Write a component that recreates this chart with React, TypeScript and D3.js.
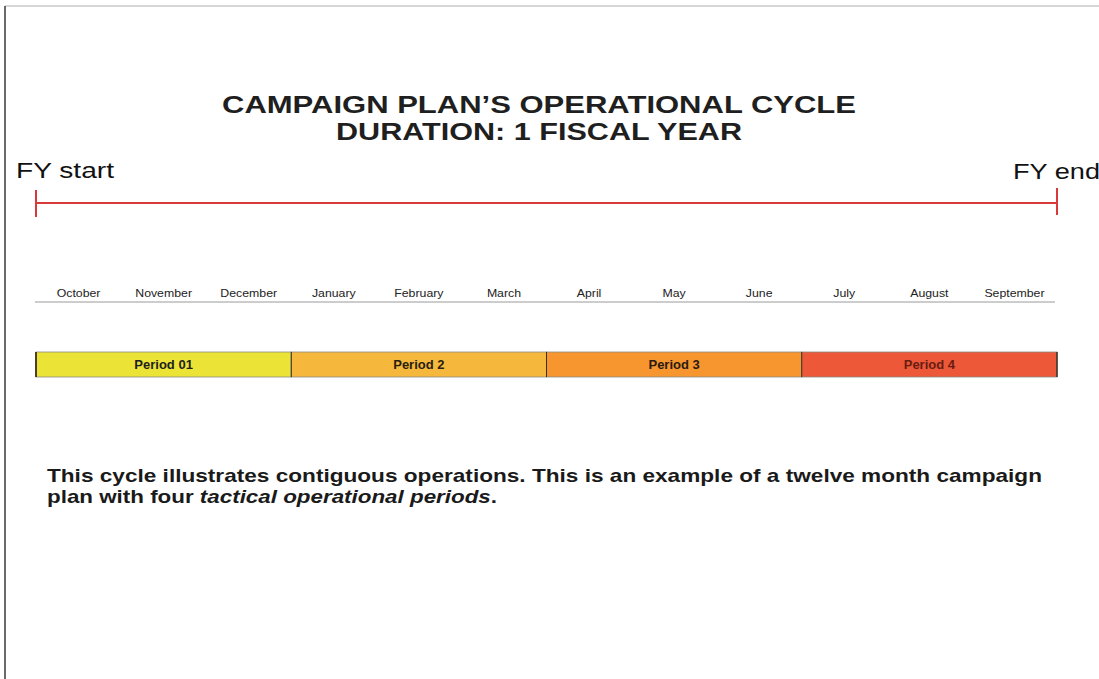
import React from 'react';
import * as d3 from 'd3';

// chart content
const TITLE_LINES = ["CAMPAIGN PLAN\u2019S OPERATIONAL CYCLE", 'DURATION: 1 FISCAL YEAR'];
const MONTHS = ['October', 'November', 'December', 'January', 'February', 'March',
	'April', 'May', 'June', 'July', 'August', 'September'];
const PERIOD_LABELS = ['Period 01', 'Period 2', 'Period 3', 'Period 4'];
const PERIOD_START = [0, 3, 6, 9];
const PERIOD_END = [3, 6, 9, 12];
const FY_LABELS = ['FY start', 'FY end'];
const NOTE_LINE_1 = 'This cycle illustrates contiguous operations. This is an example of a twelve month campaign';
const NOTE_LINE_2 = ['plan with four ', 'tactical operational periods', '.'];

const W = 1099;
const H = 679;
const FONT = '"Liberation Sans", Arial, Helvetica, sans-serif';

export default function App() {
	// month axis, 0..12 months over the fiscal year
	const x = d3.scaleLinear().domain([0, MONTHS.length]).range([36, 1057]);
	const band = d3.scaleBand().domain(MONTHS).range([36, 1057]);
	const color = d3.scaleOrdinal<string, string>()
		.domain(PERIOD_LABELS)
		.range(['#ebe436', '#f5b83c', '#f7962f', '#ec5838']);
	const textColor = d3.scaleOrdinal<string, string>()
		.domain(PERIOD_LABELS)
		.range(['#1e1e1e', '#2a1e10', '#2a1a10', '#6a1c12']);

	const lineY = 203;
	const barY = 352;
	const barH = 25;

	return (
		<div style={{ position: 'absolute', left: 0, top: 0 }}>
			<svg width={W} height={H} style={{ display: 'block', background: '#fff' }} fontFamily={FONT}>
				{/* page frame */}
				<line x1={5} y1={6} x2={W} y2={6} stroke="#c9c9c6" strokeWidth={1.5} />
				<line x1={5} y1={6} x2={5} y2={H} stroke="#6a6a6a" strokeWidth={2} />

				{/* title */}
				{TITLE_LINES.map((t, i) => (
					<text key={t} x={539} y={113 + i * 27} textAnchor="middle" fontSize={23}
						fontWeight="bold" fill="#1f1f1f" textLength={i === 0 ? 634 : 406}
						lengthAdjust="spacingAndGlyphs">{t}</text>
				))}

				{/* fiscal year span */}
				<text x={16} y={178} fontSize={22} fill="#111" textLength={98}
					lengthAdjust="spacingAndGlyphs">{FY_LABELS[0]}</text>
				<text x={1013} y={179} fontSize={22} fill="#111" textLength={87}
					lengthAdjust="spacingAndGlyphs">{FY_LABELS[1]}</text>
				<line x1={x(0)} y1={lineY} x2={x(12)} y2={lineY} stroke="#d83a3a" strokeWidth={2} />
				<line x1={x(0)} y1={lineY - 13} x2={x(0)} y2={lineY + 14} stroke="#d83a3a" strokeWidth={2} />
				<line x1={x(12)} y1={lineY - 15} x2={x(12)} y2={lineY + 12} stroke="#d83a3a" strokeWidth={2} />

				{/* months */}
				{MONTHS.map(m => {
					const cx = (band(m) as number) + band.bandwidth() / 2;
					return (
						<text key={m} transform={`translate(${cx},297) scale(1.12,1)`} textAnchor="middle"
							fontSize={11} fill="#222">{m}</text>
					);
				})}
				<line x1={x(0) - 1} y1={302} x2={x(12) - 2} y2={302} stroke="#9a9a9a" strokeWidth={1} />

				{/* periods */}
				{PERIOD_LABELS.map((p, i) => {
					const x0 = x(PERIOD_START[i]);
					const x1 = x(PERIOD_END[i]);
					return (
						<g key={p}>
							<rect x={x0} y={barY} width={x1 - x0} height={barH} fill={color(p)}
								stroke="#8a8a80" strokeWidth={0.8} />
							<line x1={x0} y1={barY} x2={x0} y2={barY + barH} stroke="#3a3020"
								strokeWidth={i === 0 ? 1.8 : 1} />
							<text x={(x0 + x1) / 2} y={barY + 17} textAnchor="middle" fontSize={13}
								fontWeight="bold" fill={textColor(p)}>{p}</text>
						</g>
					);
				})}
				<line x1={x(12)} y1={barY} x2={x(12)} y2={barY + barH} stroke="#3a3020" strokeWidth={1.5} />

				{/* note */}
				<text x={47} y={482} fontSize={19} fontWeight="bold" fill="#1a1a1a" textLength={995}
					lengthAdjust="spacingAndGlyphs">{NOTE_LINE_1}</text>
				<text x={47} y={503} fontSize={19} fontWeight="bold" fill="#1a1a1a" textLength={450}
					lengthAdjust="spacingAndGlyphs">
					<tspan>{NOTE_LINE_2[0]}</tspan>
					<tspan fontStyle="italic">{NOTE_LINE_2[1]}</tspan>
					<tspan>{NOTE_LINE_2[2]}</tspan>
				</text>
			</svg>
		</div>
	);
}
